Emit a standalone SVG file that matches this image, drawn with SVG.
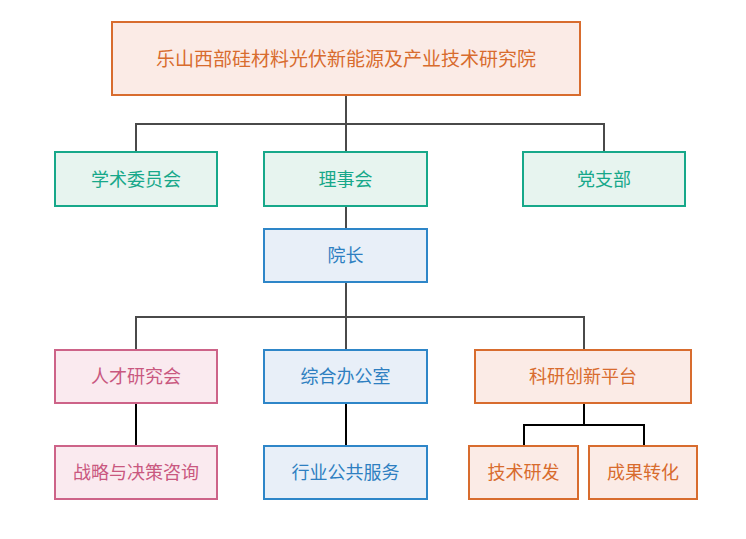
<svg xmlns="http://www.w3.org/2000/svg" width="746" height="539" viewBox="0 0 746 539">
<style>
text{font-family:"Noto Sans CJK SC","Noto Sans",sans-serif;font-size:18px;text-anchor:middle;dominant-baseline:central}
rect{stroke-width:2}
.o rect{fill:#FBEBE6;stroke:#D86C2E}.o text{fill:#D86C2E}
.g rect{fill:#E7F4EF;stroke:#17A88A}.g text{fill:#17A88A}
.b rect{fill:#E8EFF8;stroke:#2E86C8}.b text{fill:#2E7FC1}
.p rect{fill:#FAEAEF;stroke:#CD6388}.p text{fill:#C9587F}
.c1{stroke:#4a4a4a;stroke-width:2;fill:none}
.c2{stroke:#000;stroke-width:2;fill:none}
</style>
<rect width="746" height="539" fill="#fff" style="stroke:none"/>
<g id="connectors">
<path class="c1" d="M346 95V124M136 152V124H604V152M346 124V152"/>
<path class="c1" d="M346 206V229"/>
<path class="c1" d="M346 282V317M136 350V317H584V350M346 317V350"/>
<path class="c2" d="M136 403V446M346 403V446M584 403V425M524 446V425H644V446"/>
</g>
<g id="root" class="o"><rect x="112" y="22" width="468" height="73"/><text x="346" y="57" style="font-size:19px">乐山西部硅材料光伏新能源及产业技术研究院</text></g>
<g id="xueshu" class="g"><rect x="55" y="152" width="162" height="54"/><text x="136" y="177.5">学术委员会</text></g>
<g id="lishi" class="g"><rect x="264" y="152" width="163" height="54"/><text x="345.5" y="177.5">理事会</text></g>
<g id="dangzhibu" class="g"><rect x="523" y="152" width="162" height="54"/><text x="604" y="177.5">党支部</text></g>
<g id="yuanzhang" class="b"><rect x="264" y="229" width="163" height="53"/><text x="345.5" y="254">院长</text></g>
<g id="rencai" class="p"><rect x="55" y="350" width="162" height="53"/><text x="136" y="375">人才研究会</text></g>
<g id="zonghe" class="b"><rect x="264" y="350" width="163" height="53"/><text x="345.5" y="375">综合办公室</text></g>
<g id="keyan" class="o"><rect x="475" y="350" width="216" height="53"/><text x="583" y="375">科研创新平台</text></g>
<g id="zhanlue" class="p"><rect x="55" y="446" width="162" height="53"/><text x="136" y="471">战略与决策咨询</text></g>
<g id="hangye" class="b"><rect x="264" y="446" width="163" height="53"/><text x="345.5" y="471">行业公共服务</text></g>
<g id="jishu" class="o"><rect x="469" y="446" width="109" height="53"/><text x="523.5" y="471">技术研发</text></g>
<g id="chengguo" class="o"><rect x="589" y="446" width="108" height="53"/><text x="643" y="471">成果转化</text></g>
</svg>
